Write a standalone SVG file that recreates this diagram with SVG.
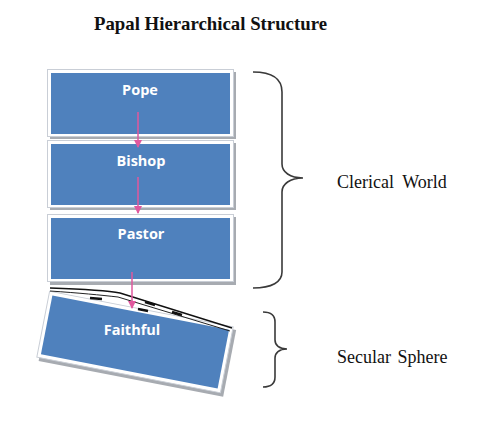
<svg xmlns="http://www.w3.org/2000/svg" width="480" height="422" viewBox="0 0 480 422">
<style>
.frame{fill:#ffffff;stroke:#c9ced6;stroke-width:1}
.shadow{fill:#a7abb1}
.blue{fill:#4f81bd}
.lbl{font-family:"Open Sans","Liberation Sans",sans-serif;font-weight:bold;font-size:14.5px;fill:#ffffff;text-anchor:middle}
.serif{font-family:"Liberation Serif","Times New Roman",serif;fill:#111111}
.arrow{stroke:#e0589e;stroke-width:1.5;fill:none}
.brace{stroke:#3a3a3a;stroke-width:1.6;fill:none}
</style>
<defs>
<marker id="ah" markerWidth="8" markerHeight="8" refX="7" refY="4" orient="auto" markerUnits="userSpaceOnUse">
<path d="M0,0 L8,4 L0,8 Z" fill="#e0589e"/>
</marker>
</defs>
<rect width="480" height="422" fill="#ffffff"/>
<text class="serif" x="94" y="30" font-size="18.8" font-weight="bold">Papal Hierarchical Structure</text>

<g id="node-pope">
<rect class="shadow" x="50" y="72" width="186" height="67"/>
<rect class="frame" x="47.5" y="69.5" width="186" height="67"/>
<rect class="blue" x="51" y="73" width="179" height="61"/>
<text class="lbl" x="140" y="95">Pope</text>
</g>
<g id="node-bishop">
<rect class="shadow" x="50" y="143" width="186" height="67"/>
<rect class="frame" x="47.5" y="140.5" width="186" height="67"/>
<rect class="blue" x="51" y="144" width="179" height="61"/>
<text class="lbl" x="141" y="166">Bishop</text>
</g>
<g id="node-pastor">
<rect class="shadow" x="50" y="217" width="186" height="68"/>
<rect class="frame" x="47.5" y="214.5" width="186" height="67"/>
<rect class="blue" x="51" y="218" width="179" height="61"/>
<text class="lbl" x="141" y="239">Pastor</text>
</g>
<g id="node-faithful">
<g transform="rotate(11 135 342)">
<rect class="shadow" x="44" y="311" width="188" height="68"/>
<rect class="frame" x="41.5" y="308.5" width="187" height="67"/>
<rect class="blue" x="45" y="312" width="180" height="60"/>
</g>
<path d="M50,288 C80,289 105,290 120,293 L232,328" stroke="#111" stroke-width="1.5" fill="none"/>
<path d="M50,291 C80,293 100,295 118,297 L230,331" stroke="#222" stroke-width="1" fill="none"/>
<path d="M90,298 L102,299 M145,302 L155,305 M138,309 L148,311 M172,312 L182,315" stroke="#111" stroke-width="2.5" fill="none"/>
<text class="lbl" x="132" y="335">Faithful</text>
</g>

<g id="connectors">
<line class="arrow" x1="138" y1="112" x2="138" y2="147" marker-end="url(#ah)"/>
<line class="arrow" x1="138" y1="177" x2="138" y2="213" marker-end="url(#ah)"/>
<line class="arrow" x1="132" y1="272" x2="132" y2="308" marker-end="url(#ah)"/>
</g>

<g id="brace-clerical">
<path class="brace" d="M253,72 C272,72 282,78 282,92 L282,164 C282,172 290,178 303,178 C290,178 282,184 282,192 L282,272 C282,282 272,288 253,288"/>
<text class="serif" x="337" y="188" font-size="18" word-spacing="4">Clerical World</text>
</g>
<g id="brace-secular">
<path class="brace" d="M263,312 C271,312 275,316 275,322 L275,340 C275,345 279,349 287,349 C279,349 275,353 275,358 L275,377 C275,383 271,387 263,387"/>
<text class="serif" x="337" y="363" font-size="18" word-spacing="2">Secular Sphere</text>
</g>
</svg>
